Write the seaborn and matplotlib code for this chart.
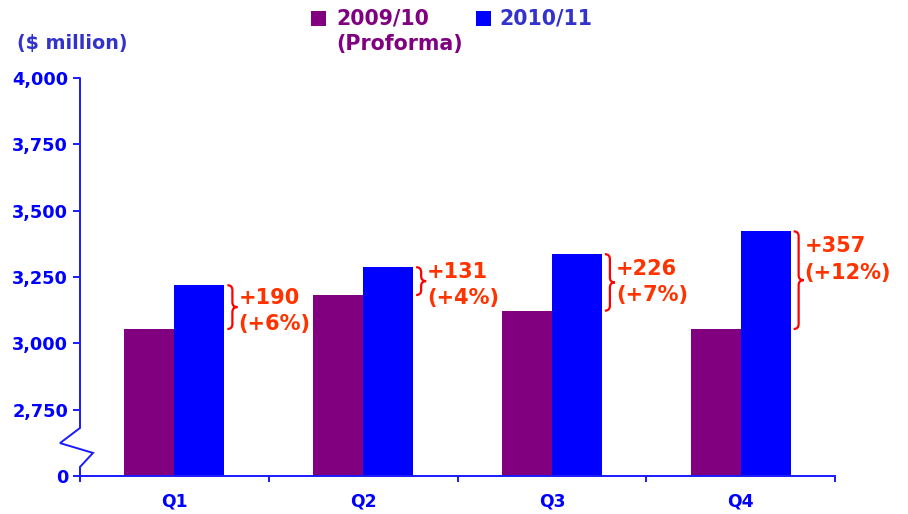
import matplotlib
matplotlib.use("Agg")
import matplotlib.pyplot as plt
import matplotlib.transforms as mtransforms
from matplotlib.path import Path
from matplotlib.patches import PathPatch, Rectangle
from matplotlib.lines import Line2D
import seaborn as sns
import pandas as pd

# ---- data ----
quarters = ["Q1", "Q2", "Q3", "Q4"]
series_names = ["2009/10", "2010/11"]
values_2009 = [3054, 3182, 3123, 3054]
values_2010 = [3219, 3287, 3336, 3422]
diff_labels = ["+190", "+131", "+226", "+357"]
pct_labels = ["(+6%)", "(+4%)", "(+7%)", "(+12%)"]
ytick_values = [2500, 2750, 3000, 3250, 3500, 3750, 4000]
ytick_labels = ["0", "2,750", "3,000", "3,250", "3,500", "3,750", "4,000"]

PURPLE = "#800080"
BLUE = "#0000FF"
AXBLUE = "#1a1aff"
RED = "#FF0000"
ORANGE = "#FF3300"

sns.set_style("white")
plt.rcParams["font.family"] = ["DejaVu Sans"]

W, H = 908, 514
fig = plt.figure(figsize=(W / 100, H / 100), dpi=100)
ax = fig.add_axes([80 / W, 38 / H, 755 / W, 398 / H])

df = pd.DataFrame({
    "quarter": quarters * 2,
    "year": [series_names[0]] * 4 + [series_names[1]] * 4,
    "value": values_2009 + values_2010,
})
sns.barplot(data=df, x="quarter", y="value", hue="year",
            palette=[PURPLE, BLUE], width=0.53, saturation=1,
            linewidth=0, gap=0, legend=False, ax=ax, errorbar=None)

ax.set_ylim(2500, 4000)
ax.set_xlim(-0.5, 3.5)
ax.set_xlabel("")
ax.set_ylabel("")

for s in ["top", "right", "left"]:
    ax.spines[s].set_visible(False)
ax.spines["bottom"].set_color(AXBLUE)
ax.spines["bottom"].set_linewidth(1.4)

ax.set_yticks(ytick_values)
ax.set_yticklabels(ytick_labels)
ax.tick_params(axis="y", direction="out", length=5, width=1.4, color=AXBLUE,
               labelcolor=BLUE, labelsize=12.8, pad=3.5, left=True)
for t in ax.get_yticklabels():
    t.set_fontweight("bold")

ax.set_xticks(range(len(quarters)))
ax.set_xticklabels(quarters)
ax.set_xticks([-0.5, 0.5, 1.5, 2.5, 3.5], minor=True)
ax.tick_params(axis="x", which="major", length=0, labelcolor=BLUE,
               labelsize=12.3, pad=12)
ax.tick_params(axis="x", which="minor", direction="out", length=4, width=1.4,
               color=AXBLUE, bottom=True)
for t in ax.get_xticklabels():
    t.set_fontweight("bold")
ax.grid(False)

# ---- broken left axis ----
blend = mtransforms.blended_transform_factory(ax.transAxes, ax.transData)
axw = 755.0
bx = [0, 0, -20 / axw, 13 / axw, 0, 0]
by = [4000, 2681, 2624, 2587, 2534, 2485]
ax.add_line(Line2D(bx, by, transform=blend, color=AXBLUE, lw=1.4,
                   clip_on=False, solid_joinstyle="miter"))

# ---- braces and annotations ----
fig.canvas.draw()
half = 0.53 / 2
for i in range(len(quarters)):
    lo, hi = values_2009[i], values_2010[i]
    xr, ytop = ax.transData.transform((i + half, hi))
    _, ybot = ax.transData.transform((i + half, lo))
    x0 = xr + 3
    w = 10
    xm = x0 + w / 2
    mid = (ytop + ybot) / 2
    r = min(5, (ytop - ybot) / 5)
    verts = [(x0, ytop), (xm, ytop), (xm, ytop - r), (xm, mid + r),
             (xm, mid), (x0 + w, mid), (xm, mid), (xm, mid - r),
             (xm, ybot + r), (xm, ybot), (x0, ybot)]
    codes = [Path.MOVETO, Path.CURVE3, Path.CURVE3, Path.LINETO,
             Path.CURVE3, Path.CURVE3, Path.CURVE3, Path.CURVE3,
             Path.LINETO, Path.CURVE3, Path.CURVE3]
    patch = PathPatch(Path(verts, codes), fill=False, edgecolor=RED, lw=1.6,
                      transform=mtransforms.IdentityTransform(), clip_on=False)
    fig.add_artist(patch)
    ty = max(mid - 4, ytop - 28)
    fig.text(x0 + w + 1, ty, diff_labels[i] + "\n" + pct_labels[i],
             transform=mtransforms.IdentityTransform(), ha="left", va="center",
             color=ORANGE, fontsize=15, fontweight="bold", linespacing=1.4)

# ---- legend & unit label ----
def fx(x):
    return x / W

def fy(y):
    return 1 - y / H

fig.add_artist(Rectangle((fx(311), fy(26)), 15 / W, 15 / H, facecolor=PURPLE,
                         edgecolor="none", transform=fig.transFigure))
fig.add_artist(Rectangle((fx(476), fy(26)), 15 / W, 15 / H, facecolor=BLUE,
                         edgecolor="none", transform=fig.transFigure))
fig.text(fx(336), fy(19), series_names[0], ha="left", va="center",
         color=PURPLE, fontsize=14.8, fontweight="bold")
fig.text(fx(336), fy(44), "(Proforma)", ha="left", va="center",
         color=PURPLE, fontsize=14.8, fontweight="bold")
fig.text(fx(499), fy(19), series_names[1], ha="left", va="center",
         color="#3333CC", fontsize=14.8, fontweight="bold")
fig.text(fx(17), fy(44), "($ million)", ha="left", va="center",
         color="#3333CC", fontsize=13.8, fontweight="bold")

fig.savefig("out.png", dpi=100)
